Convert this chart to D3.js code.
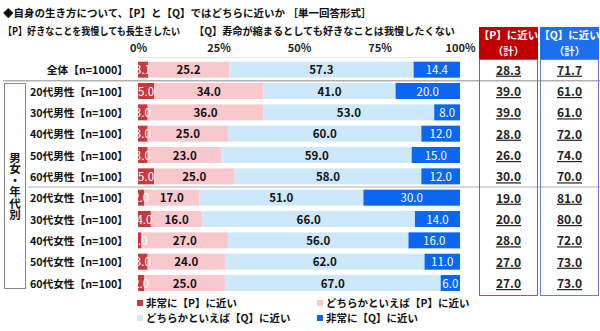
<!DOCTYPE html>
<html><head><meta charset="utf-8">
<script src="https://cdn.jsdelivr.net/npm/d3@7"></script>
<style>
body{margin:0;background:#fff;}
text{font-family:"Noto Sans CJK JP","Noto Sans",sans-serif;}
</style></head>
<body><svg id="c" width="600" height="331"></svg>
<script>
const categories = ["全体【n=1000】","20代男性【n=100】","30代男性【n=100】","40代男性【n=100】","50代男性【n=100】","60代男性【n=100】","20代女性【n=100】","30代女性【n=100】","40代女性【n=100】","50代女性【n=100】","60代女性【n=100】"];
const veryP   = [3.1, 5.0, 3.0, 3.0, 3.0, 5.0, 2.0, 4.0, 1.0, 3.0, 2.0];
const ratherP = [25.2, 34.0, 36.0, 25.0, 23.0, 25.0, 17.0, 16.0, 27.0, 24.0, 25.0];
const ratherQ = [57.3, 41.0, 53.0, 60.0, 59.0, 58.0, 51.0, 66.0, 56.0, 62.0, 67.0];
const veryQ   = [14.4, 20.0, 8.0, 12.0, 15.0, 12.0, 30.0, 14.0, 16.0, 11.0, 6.0];
const totalP  = [28.3, 39.0, 39.0, 28.0, 26.0, 30.0, 19.0, 20.0, 28.0, 27.0, 27.0];
const totalQ  = [71.7, 61.0, 61.0, 72.0, 74.0, 70.0, 81.0, 80.0, 72.0, 73.0, 73.0];
const tickValues = [0, 25, 50, 75, 100];
const seriesNames = ["非常に【P】に近い","どちらかといえば【P】に近い","どちらかといえば【Q】に近い","非常に【Q】に近い"];
const colors = ["#C63A3F","#F9C8CC","#CDE8FA","#0B66F2"];
const labelColors = ["#fff","#111","#111","#fff"];

const svg = d3.select("#c");
const x = d3.scaleLinear().domain([0,100]).range([138,460]);
const y = d3.scaleBand().domain(categories).range([59,293.7]).paddingInner(0.25).paddingOuter(0.125);
const step = y.step();

// titles
svg.append("text").attr("x",3).attr("y",17).attr("font-size",10.5).attr("font-weight","bold").attr("fill","#111")
  .text("◆自身の生き方について、【P】と【Q】ではどちらに近いか ［単一回答形式］");
svg.append("text").attr("x",3).attr("y",35).attr("font-size",10.5).attr("font-weight","bold").attr("fill","#111")
  .attr("textLength",177).attr("lengthAdjust","spacingAndGlyphs")
  .text("【P】好きなことを我慢しても長生きしたい");
svg.append("text").attr("x",194).attr("y",35).attr("font-size",10.5).attr("font-weight","bold").attr("fill","#111")
  .attr("textLength",261).attr("lengthAdjust","spacingAndGlyphs")
  .text("【Q】寿命が縮まるとしても好きなことは我慢したくない");

// axis ticks (top)
const axis = d3.axisTop(x).tickValues(tickValues).tickFormat(d=>d+"%").tickSize(0).tickPadding(0);
const ax = svg.append("g").attr("transform","translate(0,52)").call(axis);
ax.select(".domain").remove();
ax.selectAll("text").attr("font-size",11).attr("font-weight","bold").attr("fill","#222")
  .style("font-family","'Noto Sans CJK JP',sans-serif");
svg.append("line").attr("x1",x(0)).attr("x2",x(100)).attr("y1",57.5).attr("y2",57.5).attr("stroke","#e4e4e4");

// stacked data
const rows = categories.map((c,i)=>({cat:c, vals:[veryP[i],ratherP[i],ratherQ[i],veryQ[i]]}));
const stack = d3.stack().keys([0,1,2,3]).value((d,k)=>d.vals[k]);
const layers = stack(rows);

const g = svg.append("g");
layers.forEach((layer,k)=>{
  g.selectAll(null).data(layer).enter().append("rect")
    .attr("x",d=>x(d[0])).attr("width",d=>x(d[1])-x(d[0]))
    .attr("y",d=>y(d.data.cat)).attr("height",y.bandwidth())
    .attr("fill",colors[k]);
});
layers.forEach((layer,k)=>{
  g.selectAll(null).data(layer).enter().append("text")
    .attr("x",d=>(x(d[0])+x(d[1]))/2).attr("y",d=>y(d.data.cat)+y.bandwidth()/2+4.5)
    .attr("text-anchor","middle").attr("font-size",11.5).attr("fill",labelColors[k])
    .attr("font-weight", k===0||k===3 ? "normal":"bold")
    .text(d=>d.data.vals[k].toFixed(1));
});

// category labels
svg.selectAll(null).data(categories).enter().append("text")
  .attr("x",128).attr("y",d=>y(d)+y.bandwidth()/2+4.5).attr("text-anchor","end")
  .attr("font-size",10.7).attr("font-weight","bold").attr("fill","#111").text(d=>d);

// separators
svg.append("line").attr("x1",3).attr("x2",600).attr("y1",y.range()[0]+step+0.5).attr("y2",y.range()[0]+step+0.5).attr("stroke","#8a8a8a");
svg.append("line").attr("x1",28).attr("x2",600).attr("y1",y.range()[0]+6*step).attr("y2",y.range()[0]+6*step).attr("stroke","#b0b0b0");

// left group box
svg.append("rect").attr("x",4.5).attr("y",83.5).attr("width",21).attr("height",205).attr("fill","none").attr("stroke","#888");
svg.append("text").attr("x",15).attr("y",186).attr("text-anchor","middle")
  .style("writing-mode","vertical-rl").attr("font-size",11.5).attr("font-weight","bold").attr("fill","#111")
  .text("男女・年代別");

// right summary columns
const cols = [{x0:479,w:59,fill:"#C00000",stroke:"#B0505C",title:"【P】に近い",vals:totalP},
              {x0:540,w:59,fill:"#1E6FF0",stroke:"#6482C0",title:"【Q】に近い",vals:totalQ}];
cols.forEach(c=>{
  svg.append("rect").attr("x",c.x0).attr("y",27).attr("width",c.w).attr("height",32).attr("fill",c.fill);
  svg.append("rect").attr("x",c.x0+0.5).attr("y",59.5).attr("width",c.w-1).attr("height",236).attr("fill","none").attr("stroke",c.stroke);
  svg.append("text").attr("x",c.x0+c.w/2).attr("y",39).attr("text-anchor","middle").attr("font-size",10.5).attr("font-weight","bold").attr("fill","#fff").text(c.title);
  svg.append("text").attr("x",c.x0+c.w/2).attr("y",55).attr("text-anchor","middle").attr("font-size",10.5).attr("font-weight","bold").attr("fill","#fff").text("（計）");
  svg.selectAll(null).data(c.vals).enter().append("text")
    .attr("x",c.x0+c.w/2).attr("y",(d,i)=>y(categories[i])+y.bandwidth()/2+5)
    .attr("text-anchor","middle").attr("font-size",12).attr("font-weight","bold").attr("fill","#222")
    .attr("text-decoration","underline").text(d=>d.toFixed(1));
});

// legend
const legendPos = [[137,307],[317,307],[137,322],[317,322]];
[0,1,2,3].forEach((k,i)=>{
  const p = legendPos[i];
  svg.append("rect").attr("x",p[0]).attr("y",p[1]-7).attr("width",6).attr("height",6).attr("fill",colors[k]);
  svg.append("text").attr("x",p[0]+9).attr("y",p[1]).attr("font-size",10.5).attr("font-weight","bold").attr("fill","#111").text(seriesNames[k]);
});
</script></body></html>
